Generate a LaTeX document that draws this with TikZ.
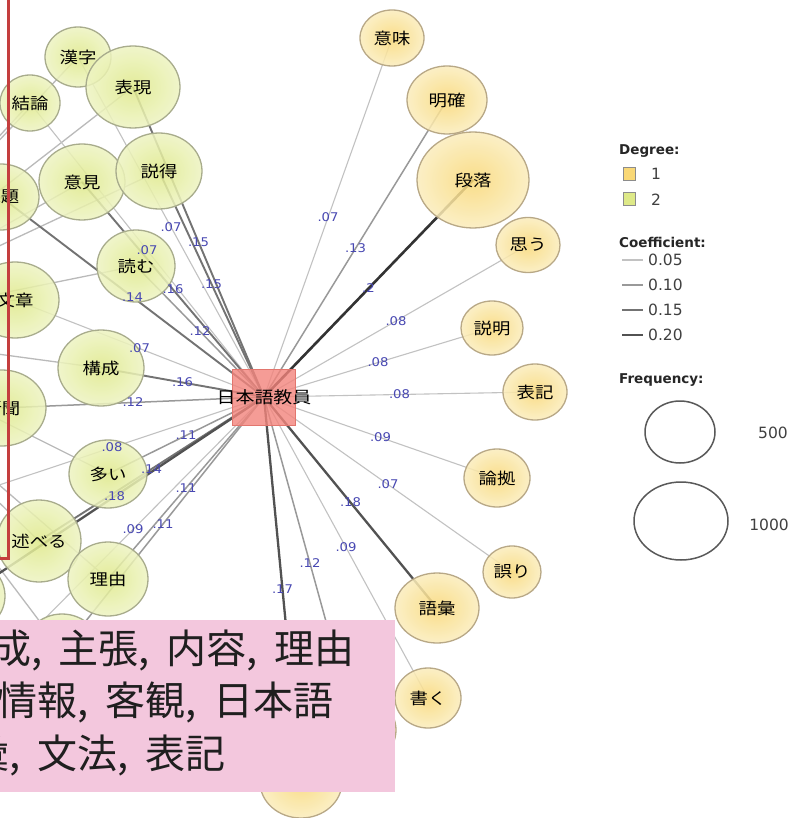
\documentclass[tikz,border=0pt]{standalone}
\usepackage{fontspec}
\usetikzlibrary{shapes.geometric}

\newfontfamily\jpfont[FakeStretch=1.15]{Noto Sans CJK JP}
\newfontfamily\notefont{Noto Sans CJK JP}
\newfontfamily\numfont[FakeStretch=1.1]{DejaVu Sans}
\newfontfamily\legfont{DejaVu Sans}

\definecolor{orIn}{RGB}{249,216,118}
\definecolor{orOut}{RGB}{251,237,188}
\definecolor{orLine}{RGB}{184,168,134}
\definecolor{grIn}{RGB}{222,233,136}
\definecolor{grOut}{RGB}{238,244,194}
\definecolor{grLine}{RGB}{168,172,140}
\definecolor{varRed}{RGB}{243,132,124}
\definecolor{varLine}{RGB}{226,118,110}
\definecolor{coefBlue}{RGB}{72,72,178}
\definecolor{frameRed}{RGB}{196,62,62}
\definecolor{notePink}{RGB}{243,199,221}

\pgfdeclarelayer{bg}
\pgfdeclarelayer{edges}
\pgfsetlayers{bg,edges,main}

\tikzset{
  word/.style={ellipse, inner sep=0pt, line width=1.3pt, fill opacity=0.85, text opacity=1,
    font=\jpfont\fontsize{16}{18}\selectfont},
  deg1/.style={word, draw=orLine, inner color=orIn, outer color=orOut},
  deg2/.style={word, draw=grLine, inner color=grIn, outer color=grOut},
  varbox/.style={rectangle, draw=varLine, fill=varRed, fill opacity=0.8, text opacity=1,
    line width=1pt, minimum width=63pt, minimum height=56pt, inner xsep=-16pt, inner ysep=0pt,
    font=\jpfont\fontsize{16.5}{18}\selectfont},
  cval/.style={font=\numfont\fontsize{12}{12}\selectfont, text=coefBlue, inner sep=0pt},
  faint/.style={draw=black!24, line width=1.1pt},
  light/.style={draw=black!40, line width=1.5pt},
  medium/.style={draw=black!55, line width=1.9pt},
  heavy/.style={draw=black!68, line width=2.3pt},
  heaviest/.style={draw=black!80, line width=2.6pt},
  hubline/.style={draw=black!27, line width=1.3pt},
  legh/.style={font=\legfont\bfseries\fontsize{13.5}{15}\selectfont, text=black!85, inner sep=0pt},
  legt/.style={font=\legfont\fontsize{15.5}{17}\selectfont, text=black!75, inner sep=0pt},
  swatch/.style={rectangle, line width=1pt, minimum width=12pt, minimum height=13pt, inner sep=0pt},
  freq/.style={ellipse, draw=black!65, line width=1.5pt, inner sep=0pt},
  notetext/.style={font=\notefont\fontsize{40}{44}\selectfont, text=black!88, inner sep=0pt, anchor=east},
  frame/.style={draw=frameRed, line width=3pt}
}

% edge from the teacher node, with its coefficient on top of the nodes
\newcommand{\coefedge}[3]{%
  \begin{pgfonlayer}{edges}
    \draw[#3] (kyoin.center) -- (#1.center);
  \end{pgfonlayer}
  \path (kyoin.center) -- node[cval] {#2} (#1.center);
}
\newcommand{\sepc}{,\hspace{0.42em}}

\begin{document}
\begin{tikzpicture}[x=1pt,y=-1pt]
  \useasboundingbox (0,0) rectangle (794,818);
  \begin{pgfonlayer}{bg}
    \fill[white] (0,0) rectangle (794,818);
  \end{pgfonlayer}

  %%% NODES
  \node[varbox] (kyoin) at (264,397) {日本語教員};

  \node[deg1, minimum width=64, minimum height=56] (imi) at (392,38) {意味};
  \node[deg1, minimum width=80, minimum height=68] (meikaku) at (447,100) {明確};
  \node[deg1, minimum width=112, minimum height=96] (danraku) at (473,180) {段落};
  \node[deg1, minimum width=64, minimum height=55] (omou) at (528,245) {思う};
  \node[deg1, minimum width=62, minimum height=54] (setsumei) at (492,328) {説明};
  \node[deg1, minimum width=64, minimum height=56] (hyoki) at (535,392) {表記};
  \node[deg1, minimum width=66, minimum height=58] (konkyo) at (497,478) {論拠};
  \node[deg1, minimum width=58, minimum height=52] (ayamari) at (512,572) {誤り};
  \node[deg1, minimum width=84, minimum height=70] (goi) at (437,608) {語彙};
  \node[deg1, minimum width=66, minimum height=60] (kaku) at (428,698) {書く};
  \node[deg1, minimum width=80, minimum height=72] (hidden1) at (356,730) {};
  \node[deg1, minimum width=82, minimum height=72] (hidden2) at (301,782) {};

  \node[deg2, minimum width=66, minimum height=60] (kanji) at (78,57) {漢字};
  \node[deg2, minimum width=94, minimum height=82] (hyogen) at (133,87) {表現};
  \node[deg2, minimum width=60, minimum height=56] (ketsuron) at (30,103) {結論};
  \node[deg2, minimum width=86, minimum height=76] (iken) at (82,182) {意見};
  \node[deg2, minimum width=86, minimum height=76] (settoku) at (159,171) {説得};
  \node[deg2, minimum width=76, minimum height=66] (kadai) at (1,197) {課題};
  \node[deg2, minimum width=78, minimum height=72] (yomu) at (136,266) {読む};
  \node[deg2, minimum width=88, minimum height=76] (bunsho) at (15,300) {文章};
  \node[deg2, minimum width=86, minimum height=76] (kosei) at (101,368) {構成};
  \node[deg2, minimum width=88, minimum height=76] (shinbun) at (2,408) {新聞};
  \node[deg2, minimum width=78, minimum height=68] (oi) at (108,474) {多い};
  \node[deg2, minimum width=84, minimum height=82] (noberu) at (39,541) {述べる};
  \node[deg2, minimum width=80, minimum height=74] (riyu) at (108,579) {理由};
  \node[deg2, minimum width=80, minimum height=74] (lowleft) at (-35,596) {};
  \node[deg2, minimum width=78, minimum height=74] (under1) at (62,651) {};
  \node[deg2, minimum width=80, minimum height=74] (under2) at (2,662) {};
  \coordinate (offleft) at (-40,498);
  \coordinate (learner) at (-180,330);

  %%% EDGES
  \begin{pgfonlayer}{edges}
    \draw[hubline] (learner) -- (kanji.center) (learner) -- (hyogen.center)
      (learner) -- (ketsuron.center) (learner) -- (iken.center)
      (learner) -- (settoku.center) (learner) -- (kadai.center)
      (learner) -- (yomu.center) (learner) -- (bunsho.center)
      (learner) -- (kosei.center) (learner) -- (shinbun.center)
      (learner) -- (oi.center) (learner) -- (noberu.center)
      (learner) -- (riyu.center) (learner) -- (under1.center);
  \end{pgfonlayer}

  \coefedge{imi}{.07}{faint}
  \coefedge{meikaku}{.13}{light}
  \coefedge{danraku}{.2}{heaviest}
  \coefedge{omou}{.08}{faint}
  \coefedge{setsumei}{.08}{faint}
  \coefedge{hyoki}{.08}{faint}
  \coefedge{konkyo}{.09}{faint}
  \coefedge{ayamari}{.07}{faint}
  \coefedge{goi}{.18}{heavy}
  \coefedge{kaku}{.09}{faint}
  \coefedge{hidden1}{.12}{light}
  \coefedge{hidden2}{.17}{heavy}

  \coefedge{kanji}{.07}{faint}
  \coefedge{hyogen}{.15}{medium}
  \coefedge{settoku}{.15}{medium}
  \coefedge{ketsuron}{.07}{faint}
  \coefedge{iken}{.16}{medium}
  \coefedge{kadai}{.14}{medium}
  \coefedge{yomu}{.12}{light}
  \coefedge{bunsho}{.07}{faint}
  \coefedge{kosei}{.16}{medium}
  \coefedge{shinbun}{.12}{light}
  \coefedge{oi}{.11}{light}
  \coefedge{offleft}{.08}{faint}
  \coefedge{noberu}{.14}{medium}
  \coefedge{riyu}{.11}{light}
  \coefedge{lowleft}{.18}{heavy}
  \coefedge{under2}{.09}{faint}
  \coefedge{under1}{.11}{light}

  %%% FRAME AND NOTE
  \draw[frame] (-20,-20) rectangle (8.5,558);
  \fill[notePink] (0,620) rectangle (395,792);
  \node[notetext] (note1) at (355,650) {構成\sepc 主張\sepc 内容\sepc 理由};
  \node[notetext] (note2) at (334,702) {情報\sepc 客観\sepc 日本語};
  \node[notetext] (note3) at (226,755) {語彙\sepc 文法\sepc 表記};

  %%% LEGEND
  \node[legh, anchor=west] (degree) at (619,151) {Degree:};
  \node[swatch, draw=black!45, fill=orIn] (sw1) at (629,174) {};
  \node[legt, anchor=west] (deg1lab) at (651,174) {1};
  \node[swatch, draw=black!45, fill=grIn] (sw2) at (629,199) {};
  \node[legt, anchor=west] (deg2lab) at (651,200) {2};

  \node[legh, anchor=west] (coefficient) at (619,242) {Coefficient:};
  \draw[faint] (622,260) -- (643,260);
  \node[legt, anchor=west] (c05) at (648,260) {0.05};
  \draw[light] (622,285) -- (643,285);
  \node[legt, anchor=west] (c10) at (648,285) {0.10};
  \draw[medium] (622,310) -- (643,310);
  \node[legt, anchor=west] (c15) at (648,310) {0.15};
  \draw[heavy] (622,335) -- (643,335);
  \node[legt, anchor=west] (c20) at (648,335) {0.20};

  \node[legh, anchor=west] (frequency) at (619,380) {Frequency:};
  \node[freq, minimum width=70, minimum height=62] (f500) at (680,432) {};
  \node[legt] (n500) at (773,433) {500};
  \node[freq, minimum width=94, minimum height=78] (f1000) at (681,521) {};
  \node[legt] (n1000) at (769,525) {1000};
\end{tikzpicture}
\end{document}
